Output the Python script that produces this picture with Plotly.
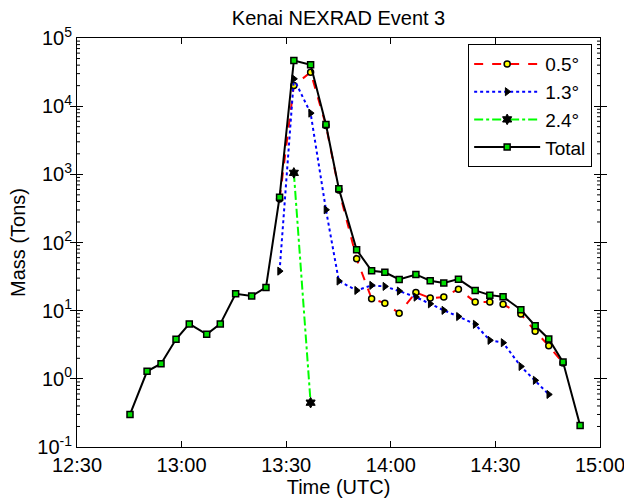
import plotly.graph_objects as go

DAY = "2000-01-01 "

# Scan times (UTC) and storm mass per elevation angle
times_total = ["12:45:12", "12:50:06", "12:54:06", "12:58:24", "13:02:12", "13:07:12",
               "13:11:06", "13:15:30", "13:20:06", "13:24:12", "13:28:06", "13:32:12",
               "13:37:00", "13:41:24", "13:45:06", "13:50:12", "13:54:30", "13:58:18",
               "14:02:24", "14:07:12", "14:11:18", "14:15:12", "14:19:24", "14:24:12",
               "14:28:24", "14:32:12", "14:37:18", "14:41:24", "14:45:18", "14:49:24",
               "14:54:18"]
mass_total = [0.30, 1.29, 1.67, 3.8, 6.4, 4.5, 6.4, 17.7, 16.4, 21.9, 463, 46800,
              40400, 5390, 614, 78, 38.5, 36.5, 28.7, 34, 27.5, 25.4, 29, 19.8,
              16.9, 16.0, 10.3, 6.0, 3.84, 1.76, 0.207]

times_05 = times_total[10:30]
mass_05 = [433, 20100, 31500, 5200, 590, 57.8, 15.0, 12.9, 9.2, 18.5, 15.3, 15.8,
           20.7, 13.4, 13.4, 12.4, 8.9, 5.0, 3.06, 1.70]

times_13 = times_total[10:29]
mass_13 = [38, 25200, 7900, 302, 27.2, 19.8, 23.5, 22.7, 19.4, 15.8, 12.6, 10.1,
           8.2, 6.3, 3.67, 3.39, 1.52, 0.95, 0.59]

times_24 = times_total[11:13]
mass_24 = [1050, 0.447]

x_ticks = ["12:30", "13:00", "13:30", "14:00", "14:30", "15:00"]
y_exponents = [-1, 0, 1, 2, 3, 4, 5]

FONT = "Liberation Sans, Arial, sans-serif"
PLOT_W = 624 - 77 - 24


def stamp(ts):
    return [DAY + t for t in ts]


fig = go.Figure()

# Minor log ticks (2..9 per decade) on both frame edges, drawn on a hidden
# 0..1 helper x-axis so their length is a fixed fraction of the plot width
tick_frac = 3.0 / PLOT_W
mx, my = [], []
for e in y_exponents[:-1]:
    for m in range(2, 10):
        v = m * 10.0 ** e
        mx += [0.0, tick_frac, None, 1.0 - tick_frac, 1.0, None]
        my += [v, v, None, v, v, None]
fig.add_trace(go.Scatter(
    x=mx, y=my, xaxis="x2", yaxis="y", mode="lines",
    line=dict(color="black", width=1), showlegend=False, hoverinfo="skip",
    connectgaps=False, cliponaxis=False))

fig.add_trace(go.Scatter(
    x=stamp(times_05), y=mass_05, name="0.5°", mode="lines+markers",
    line=dict(color="#ff0000", width=2, dash="dash"),
    marker=dict(symbol="circle", size=6, color="#ffff00",
                line=dict(color="black", width=1.5))))
fig.add_trace(go.Scatter(
    x=stamp(times_13), y=mass_13, name="1.3°", mode="lines+markers",
    line=dict(color="#0000ff", width=2, dash="dot"),
    marker=dict(symbol="triangle-right", size=7, color="black",
                line=dict(color="black", width=1))))
fig.add_trace(go.Scatter(
    x=stamp(times_24), y=mass_24, name="2.4°", mode="lines+markers",
    line=dict(color="#00ff00", width=2, dash="dashdot"),
    marker=dict(symbol="hexagram", size=8, color="black",
                line=dict(color="black", width=1))))
fig.add_trace(go.Scatter(
    x=stamp(times_total), y=mass_total, name="Total", mode="lines+markers",
    line=dict(color="black", width=2),
    marker=dict(symbol="square", size=6, color="#00dd00",
                line=dict(color="black", width=1.5))))

fig.update_layout(
    width=624, height=501,
    margin=dict(l=77, r=24, t=38, b=54),
    paper_bgcolor="white", plot_bgcolor="white",
    font=dict(family=FONT, size=20, color="black"),
    title=dict(text="Kenai NEXRAD Event 3", x=0.5425, xanchor="center",
               y=0.965, yanchor="middle", font=dict(size=20)),
    legend=dict(x=0.985, xanchor="right", y=0.985, yanchor="top",
                bgcolor="white", bordercolor="black", borderwidth=1,
                font=dict(size=19), itemwidth=66, tracegroupgap=0),
    showlegend=True,
    xaxis2=dict(overlaying="x", range=[0, 1], visible=False, showgrid=False,
                zeroline=False, fixedrange=True),
)

fig.update_layout(xaxis=dict(
    type="date",
    range=[DAY + "12:30:00", DAY + "15:00:00"],
    tickvals=[DAY + t + ":00" for t in x_ticks],
    ticktext=x_ticks,
    ticklabeloverflow="allow", automargin=False,
    ticks="inside", ticklen=6, tickcolor="black",
    showline=True, linecolor="black", linewidth=1, mirror="allticks",
    showgrid=False, zeroline=False,
    title=dict(text="Time (UTC)", standoff=4, font=dict(size=20)),
    tickfont=dict(size=20),
))
fig.update_layout(yaxis=dict(
    type="log", range=[-1, 5],
    tickmode="array",
    tickvals=[10.0 ** e for e in y_exponents],
    ticktext=["10<sup>%d</sup>" % e for e in y_exponents],
    automargin=False,
    ticks="inside", ticklen=6, tickcolor="black",
    showline=True, linecolor="black", linewidth=1, mirror="allticks",
    showgrid=False, zeroline=False,
    title=dict(text="Mass (Tons)", standoff=6, font=dict(size=20)),
    tickfont=dict(size=20),
))

fig.write_html("out.html")
